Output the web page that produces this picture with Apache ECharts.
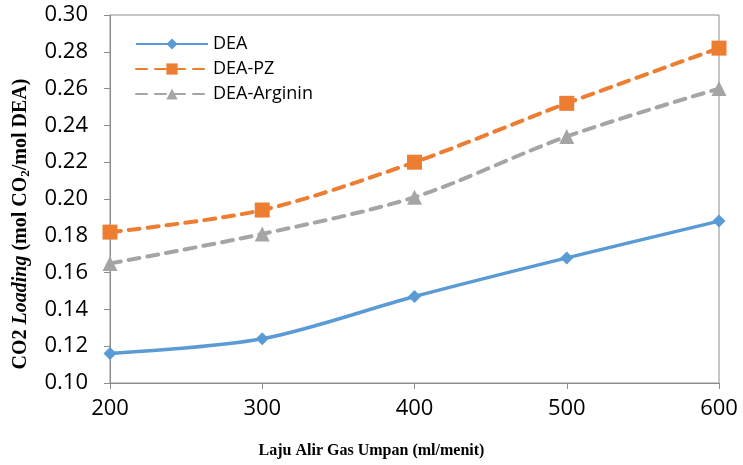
<!DOCTYPE html>
<html>
<head>
<meta charset="utf-8">
<script src="https://cdn.jsdelivr.net/npm/echarts@6/dist/echarts.min.js"></script>
<style>
  html, body { margin: 0; padding: 0; background: #fff; }
  #chart { width: 743px; height: 465px; }
</style>
</head>
<body>
<div id="chart"></div>
<script>
  // flow rate (ml/menit)
  const flowRates = [200, 300, 400, 500, 600]
  const deaValues = [0.116, 0.124, 0.147, 0.168, 0.188]
  const deaPzValues = [0.182, 0.194, 0.220, 0.252, 0.282]
  const deaArgininValues = [0.165, 0.181, 0.201, 0.234, 0.260]
  const xTicks = [200, 300, 400, 500, 600]
  const yTicks = [0.10, 0.12, 0.14, 0.16, 0.18, 0.20, 0.22, 0.24, 0.26, 0.28, 0.30]

  const toPairs = (vals) => flowRates.map((x, i) => [x, vals[i]])

  const axisColor = '#8c8c8c'
  const tickFont = { fontFamily: 'Open Sans', fontSize: 22, color: '#000' }
  const dash = [11, 8]

  const chart = echarts.init(document.getElementById('chart'))
  const option = {
    animation: false,
    grid: {
      left: 110,
      right: 24,
      top: 15,
      bottom: 82,
      outerBoundsMode: 'none',
      show: true,
      borderColor: axisColor,
      borderWidth: 1
    },
    legend: {
      left: 130,
      top: 30,
      orient: 'vertical',
      itemWidth: 72,
      itemHeight: 14,
      itemGap: 7,
      textStyle: { fontFamily: 'Open Sans', fontSize: 18, color: '#000' },
      data: ['DEA', 'DEA-PZ', 'DEA-Arginin']
    },
    xAxis: {
      type: 'value',
      min: xTicks[0],
      max: xTicks[xTicks.length - 1],
      interval: 100,
      splitLine: { show: false },
      axisLine: { lineStyle: { color: axisColor } },
      axisTick: { show: true, inside: false, length: 6, lineStyle: { color: axisColor } },
      axisLabel: Object.assign({ margin: 15 }, tickFont),
      name: 'Laju Alir Gas Umpan (ml/menit)',
      nameLocation: 'middle',
      nameGap: 60,
      nameTextStyle: {
        fontFamily: 'Liberation Serif',
        fontWeight: 'bold',
        fontSize: 16,
        color: '#000',
        padding: [0, 86, 0, 0]
      }
    },
    yAxis: {
      type: 'value',
      min: yTicks[0],
      max: yTicks[yTicks.length - 1],
      interval: 0.02,
      splitLine: { show: false },
      axisLine: { show: true, lineStyle: { color: axisColor } },
      axisTick: { show: true, inside: false, length: 6, lineStyle: { color: axisColor } },
      axisLabel: Object.assign({ margin: 22, formatter: (v) => v.toFixed(2) }, tickFont),
      name: '{b|CO2 }{i|Loading}{b| (mol CO}{s|2}{b|/mol DEA)}',
      nameLocation: 'middle',
      nameGap: 78,
      nameTextStyle: {
        padding: [0, 50, 0, 0],
        rich: {
          b: { fontFamily: 'Liberation Serif', fontWeight: 'bold', fontSize: 20, color: '#000' },
          i: { fontFamily: 'Liberation Serif', fontWeight: 'bold', fontStyle: 'italic', fontSize: 20, color: '#000' },
          s: { fontFamily: 'Liberation Serif', fontWeight: 'bold', fontSize: 13, color: '#000', verticalAlign: 'bottom', padding: [9, 0, 0, 0] }
        }
      }
    },
    series: [
      {
        name: 'DEA',
        type: 'line',
        smooth: 0.3,
        data: toPairs(deaValues),
        symbol: 'diamond',
        symbolSize: 13,
        itemStyle: { color: '#5b9bd5' },
        lineStyle: { color: '#5b9bd5', width: 3.5 }
      },
      {
        name: 'DEA-PZ',
        type: 'line',
        smooth: 0.3,
        data: toPairs(deaPzValues),
        symbol: 'rect',
        symbolSize: 15,
        itemStyle: { color: '#ed7d31' },
        lineStyle: { color: '#ed7d31', width: 4, type: dash, cap: 'round' }
      },
      {
        name: 'DEA-Arginin',
        type: 'line',
        smooth: 0.3,
        data: toPairs(deaArgininValues),
        symbol: 'triangle',
        symbolSize: 15,
        itemStyle: { color: '#a5a5a5' },
        lineStyle: { color: '#a5a5a5', width: 4, type: dash, cap: 'round' }
      }
    ]
  }
  chart.setOption(option)
</script>
</body>
</html>
